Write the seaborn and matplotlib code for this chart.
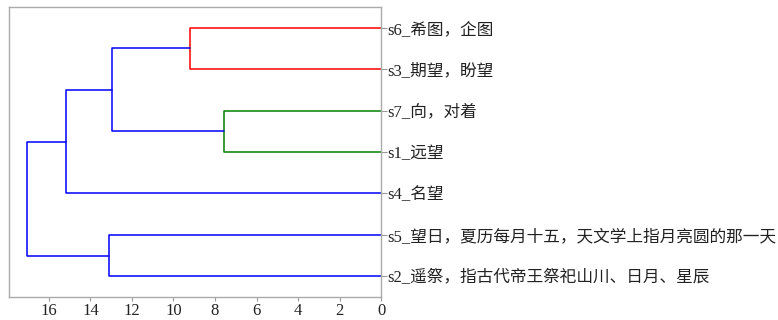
import numpy as np
import pandas as pd
import matplotlib
matplotlib.use("Agg")
import matplotlib.pyplot as plt
import seaborn as sns

# Leaf labels (index order s1..s7)
labels = [
    "s1_远望",
    "s2_遥祭，指古代帝王祭祀山川、日月、星辰",
    "s3_期望，盼望",
    "s4_名望",
    "s5_望日，夏历每月十五，天文学上指月亮圆的那一天",
    "s6_希图，企图",
    "s7_向，对着",
]

# Linkage: child a, child b, merge distance (new nodes numbered from 7)
link_a = [0, 2, 7, 1, 3, 10]
link_b = [6, 5, 8, 4, 9, 11]
link_h = [7.57, 9.20, 12.96, 13.12, 15.18, 17.07]

xticks = [0, 2, 4, 6, 8, 10, 12, 14, 16]

sns.set_style("white")
plt.rcParams["font.family"] = ["Liberation Serif", "Noto Sans CJK SC", "DejaVu Sans"]

n = len(labels)
color_threshold = 0.7 * max(link_h)
cluster_palette = ["g", "r", "c", "m", "y", "k"]
above_color = "b"


def leaves_of(node):
    if node < n:
        return [node]
    i = node - n
    return leaves_of(link_a[i]) + leaves_of(link_b[i])


root = n + len(link_h) - 1
order = leaves_of(root)
leaf_pos = {leaf: 5 + 10 * k for k, leaf in enumerate(order)}

# Assign a color to each merge, as in a standard dendrogram
link_color = {}
palette_idx = [0]


def assign(node, inherited=None):
    if node < n:
        return
    i = node - n
    h = link_h[i]
    if inherited is None and h < color_threshold:
        inherited = cluster_palette[palette_idx[0] % len(cluster_palette)]
        palette_idx[0] += 1
    link_color[i] = inherited if inherited is not None else above_color
    assign(link_a[i], inherited)
    assign(link_b[i], inherited)


assign(root)


def node_pos(node):
    if node < n:
        return leaf_pos[node], 0.0
    i = node - n
    ya, _ = node_pos(link_a[i])
    yb, _ = node_pos(link_b[i])
    return (ya + yb) / 2.0, link_h[i]


fig = plt.figure(figsize=(7.78, 3.2), dpi=100)
ax = fig.add_axes([0.0116, 0.072, 0.4782, 0.906])

for i in range(len(link_h)):
    ya, ha = node_pos(link_a[i])
    yb, hb = node_pos(link_b[i])
    seg = pd.DataFrame({"d": [ha, link_h[i], link_h[i], hb], "y": [ya, ya, yb, yb]})
    sns.lineplot(data=seg, x="d", y="y", sort=False, estimator=None,
                 color=link_color[i], linewidth=1.1, ax=ax)

ax.set_xlim(max(link_h) * 1.05, 0)
ax.set_ylim(0, 10 * n)
ax.set_xlabel("")
ax.set_ylabel("")

ax.set_xticks(xticks)
ax.set_xticklabels([str(t) for t in xticks], fontsize=12)
ax.set_yticks([leaf_pos[l] for l in order])
ax.set_yticklabels([labels[l] for l in order], fontsize=12)
ax.yaxis.set_ticks_position("right")
ax.tick_params(axis="x", bottom=True, length=3, color="#999999", labelcolor="#222222", pad=1.5)
ax.tick_params(axis="y", right=True, left=False, length=4, color="#999999",
               labelcolor="#222222", pad=0.5)

for s in ax.spines.values():
    s.set_visible(True)
    s.set_color("#aaaaaa")
    s.set_linewidth(1.0)

fig.savefig("out.png", dpi=100)
